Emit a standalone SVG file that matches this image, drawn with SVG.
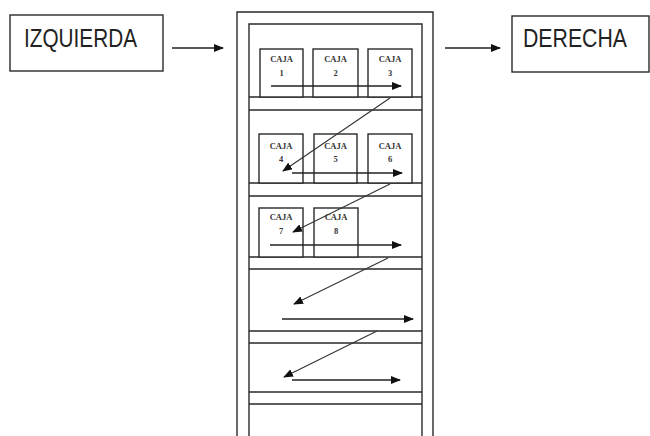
<svg xmlns="http://www.w3.org/2000/svg" width="650" height="436" viewBox="0 0 650 436">
<style>
.frame{fill:none;stroke:#2a2a2a;stroke-width:1.4}
.box{fill:#fff;stroke:#2a2a2a;stroke-width:1.4}
.lbl{font-family:"Liberation Sans Narrow","Liberation Sans",Arial,sans-serif;font-size:25px;fill:#222}
.caja{font-family:"Liberation Serif","Times New Roman",serif;font-size:8.5px;font-weight:bold;fill:#333;text-anchor:middle}
.arr{fill:none;stroke:#222;stroke-width:1.3;marker-end:url(#ah)}
.diag{fill:none;stroke:#333;stroke-width:1.1;marker-end:url(#ah)}
</style>
<defs>
<marker id="ah" viewBox="0 0 10 8" refX="9" refY="4" markerWidth="10" markerHeight="8" markerUnits="userSpaceOnUse" orient="auto">
<path d="M0,0 L10,4 L0,8 Z" fill="#111"/>
</marker>
</defs>
<rect width="650" height="436" fill="#fff"/>
<g id="izquierda">
<rect class="box" x="10" y="15" width="153" height="56"/>
<text class="lbl" x="24" y="47" textLength="113" lengthAdjust="spacingAndGlyphs">IZQUIERDA</text>
</g>
<g id="derecha">
<rect class="box" x="512" y="16" width="137" height="56"/>
<text class="lbl" x="523" y="47" textLength="104" lengthAdjust="spacingAndGlyphs">DERECHA</text>
</g>
<g id="estanteria">
<path class="frame" d="M237,436 V12 H433 V436 M249,436 V24 H422 V436"/>
<path class="frame" d="M249,97 H422 M249,110 H422 M249,183 H422 M249,196 H422 M249,257 H422 M249,269 H422 M249,331 H422 M249,343 H422 M249,392 H422 M249,404 H422"/>
</g>
<g id="caja1"><rect class="box" x="260" y="49" width="43" height="48"/><text class="caja" x="281.5" y="62">CAJA</text><text class="caja" x="281.5" y="76">1</text></g>
<g id="caja2"><rect class="box" x="313" y="49" width="45" height="48"/><text class="caja" x="335.5" y="62">CAJA</text><text class="caja" x="335.5" y="76">2</text></g>
<g id="caja3"><rect class="box" x="368" y="49" width="44" height="48"/><text class="caja" x="390" y="62">CAJA</text><text class="caja" x="390" y="76">3</text></g>
<g id="caja4"><rect class="box" x="259" y="134" width="44" height="49"/><text class="caja" x="281" y="149">CAJA</text><text class="caja" x="281" y="162">4</text></g>
<g id="caja5"><rect class="box" x="314" y="134" width="43" height="49"/><text class="caja" x="335.5" y="149">CAJA</text><text class="caja" x="335.5" y="162">5</text></g>
<g id="caja6"><rect class="box" x="368" y="134" width="44" height="49"/><text class="caja" x="390" y="149">CAJA</text><text class="caja" x="390" y="162">6</text></g>
<g id="caja7"><rect class="box" x="259" y="208" width="44" height="49"/><text class="caja" x="281" y="220">CAJA</text><text class="caja" x="281" y="234">7</text></g>
<g id="caja8"><rect class="box" x="314" y="208" width="44" height="49"/><text class="caja" x="336" y="220">CAJA</text><text class="caja" x="336" y="234">8</text></g>
<g id="conectores">
<path class="arr" d="M172,48 H223"/>
<path class="arr" d="M445,48 H500"/>
<path class="arr" d="M271,86 H401"/>
<path class="diag" d="M390,98 L283,171"/>
<path class="arr" d="M292,173 H402"/>
<path class="diag" d="M390,184 L293,232"/>
<path class="arr" d="M270,245 H401"/>
<path class="diag" d="M388,258 L294,304"/>
<path class="arr" d="M282,319 H413"/>
<path class="diag" d="M377,331 L284,377"/>
<path class="arr" d="M292,380 H400"/>
</g>
</svg>
